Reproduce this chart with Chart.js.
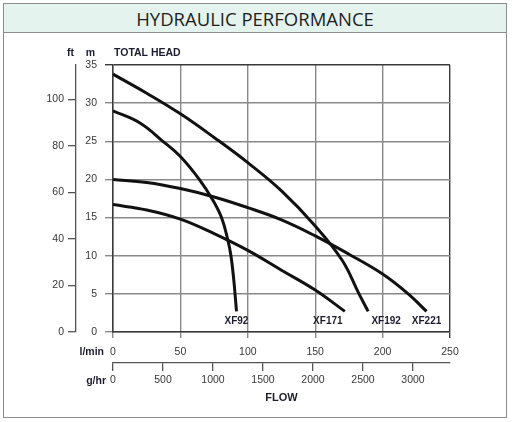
<!DOCTYPE html>
<html>
<head>
<meta charset="utf-8">
<script src="https://cdn.jsdelivr.net/npm/chart.js@4.4.1/dist/chart.umd.min.js"></script>
<style>
  body { margin: 0; background: #fff; }
  #wrap { position: relative; width: 512px; height: 422px; }
  #frame {
    position: absolute; left: 3px; top: 3px; width: 502px; height: 413px;
    border: 1.5px solid #8c8c8c;
  }
  #head {
    height: 27px; line-height: 27px; padding-top: 1px; background: #e4f3ed;
    border-bottom: 1.5px solid #8c8c8c; text-align: center;
    font-family: "Open Sans", "Noto Sans", sans-serif; font-size: 18.5px; color: #1e1e1e;
  }
  #chart { position: absolute; left: 0; top: 0; }
</style>
</head>
<body>
<div id="wrap">
  <div id="frame"><div id="head">HYDRAULIC PERFORMANCE</div></div>
  <canvas id="chart" width="512" height="422"></canvas>
</div>
<script>
// debit en l/min, hauteur en m
const pumpNames = ['XF92', 'XF171', 'XF192', 'XF221'];

const xf92Flow = [0, 20, 37, 50, 64, 74, 80.5, 85, 87.5, 89.5, 91, 91.6];
const xf92Head = [29, 27.4, 25, 23, 20, 17.3, 15, 12.2, 10, 7, 4, 2.7];

const xf171Flow = [0, 25, 50, 75, 100, 125, 150, 172];
const xf171Head = [16.7, 16.0, 14.8, 12.9, 10.7, 8.1, 5.5, 2.7];

const xf192Flow = [0, 25, 50, 75, 100, 125, 150, 170, 182.5, 189.3];
const xf192Head = [33.8, 31.3, 28.6, 25.5, 22.2, 18.5, 13.9, 9.4, 5.0, 2.7];

const xf221Flow = [0, 25, 50, 75, 100, 125, 150, 175, 200, 219, 232.6];
const xf221Head = [20, 19.6, 18.8, 17.7, 16.3, 14.7, 12.6, 10.2, 7.6, 5, 2.7];

// graduations des axes
const lminMax = 250;
const headMax = 35;
const ftMax = 114.83;   // 35 m en pieds
const ghrMax = 3370;    // 250 l/min en g/hr
const ftTicks = [0, 20, 40, 60, 80, 100];
const ghrTicks = [0, 500, 1000, 1500, 2000, 2500, 3000];

const ink = '#1c1c30';
const gridGray = '#8a8a8a';
const dark = '#3a3a3a';
const fontFam = "'Liberation Sans', Arial, sans-serif";

function toPoints(flow, head) {
    return flow.map((q, i) => ({ x: q, y: head[i] }));
}

const series = [
    toPoints(xf92Flow, xf92Head),
    toPoints(xf171Flow, xf171Head),
    toPoints(xf192Flow, xf192Head),
    toPoints(xf221Flow, xf221Head)
];

// decalage des etiquettes sous la fin des courbes
const labelShift = [0, -17, 18, 0];

const textPlugin = {
    id: 'textPlugin',
    afterDraw(chart) {
        const ctx = chart.ctx;
        const area = chart.chartArea;
        const sx = chart.scales.x, sx2 = chart.scales.x2, sft = chart.scales.yft;
        ctx.save();
        ctx.fillStyle = ink;
        ctx.textBaseline = 'middle';
        ctx.font = 'bold 10.5px ' + fontFam;
        ctx.textAlign = 'right';
        ctx.fillText('ft', sft.right - 2, area.top - 12);
        ctx.fillText('m', area.left - 18, area.top - 12);
        ctx.fillText('l/min', area.left - 9, sx.top + 20.5);
        ctx.fillText('g/hr', area.left - 7, sx2.top + 18);
        ctx.textAlign = 'left';
        ctx.fillText('TOTAL HEAD', area.left + 1, area.top - 12);

        ctx.font = 'bold 10px ' + fontFam;
        ctx.textAlign = 'center';
        chart.data.datasets.forEach((ds, i) => {
            const pts = chart.getDatasetMeta(i).data;
            const last = pts[pts.length - 1];
            ctx.fillText(ds.label, last.x + labelShift[i], last.y + 10);
        });
        ctx.restore();
    }
};

Chart.defaults.font.family = fontFam;
Chart.defaults.font.size = 10.5;
Chart.defaults.color = '#383838';

const plainLabel = v => String(v);

new Chart(document.getElementById('chart').getContext('2d'), {
    type: 'line',
    data: {
        datasets: series.map((pts, i) => ({
            label: pumpNames[i],
            data: pts,
            borderColor: '#111',
            borderWidth: 3,
            pointRadius: 0,
            fill: false,
            tension: 0.4
        }))
    },
    options: {
        responsive: false,
        animation: false,
        layout: { padding: { left: 10, top: 65, right: 62, bottom: 17 } },
        plugins: {
            legend: { display: false },
            tooltip: { enabled: false }
        },
        scales: {
            x: {
                type: 'linear', position: 'bottom', weight: 0,
                min: 0, max: lminMax,
                ticks: { stepSize: 50, padding: 8, callback: plainLabel },
                grid: {
                    color: c => (c.tick && c.tick.value === lminMax) ? dark : gridGray,
                    lineWidth: 1.4, tickLength: 6
                },
                border: { color: dark, width: 1.5 },
                afterFit: s => { s.height = 31; }
            },
            x2: {
                type: 'linear', position: 'bottom', weight: 1,
                min: 0, max: ghrMax,
                ticks: { padding: 3, callback: plainLabel },
                afterBuildTicks: s => { s.ticks = ghrTicks.map(v => ({ value: v })); },
                grid: { drawOnChartArea: false, color: '#555', lineWidth: 1.3, tickLength: 8 },
                border: { color: '#555', width: 1.3 },
                title: {
                    display: true, text: 'FLOW', color: ink,
                    font: { weight: 'bold', size: 11 }, padding: { top: 0, bottom: 0 }
                },
                afterFit: s => { s.height = 42; }
            },
            y: {
                type: 'linear', position: 'left', weight: 0,
                min: 0, max: headMax,
                ticks: { stepSize: 5, padding: 8, callback: plainLabel },
                grid: {
                    color: c => (c.tick && c.tick.value === headMax) ? dark : gridGray,
                    lineWidth: 1.4, tickLength: 8
                },
                border: { color: dark, width: 1.5 },
                afterFit: s => { s.width = 37; }
            },
            yft: {
                type: 'linear', position: 'left', weight: 1,
                min: 0, max: ftMax,
                ticks: { padding: 4, callback: plainLabel },
                afterBuildTicks: s => { s.ticks = ftTicks.map(v => ({ value: v })); },
                grid: { drawOnChartArea: false, color: '#555', lineWidth: 1.3, tickLength: 8 },
                border: { color: '#555', width: 1.3 },
                afterFit: s => { s.width = 66; }
            }
        }
    },
    plugins: [textPlugin]
});
</script>
</body>
</html>
